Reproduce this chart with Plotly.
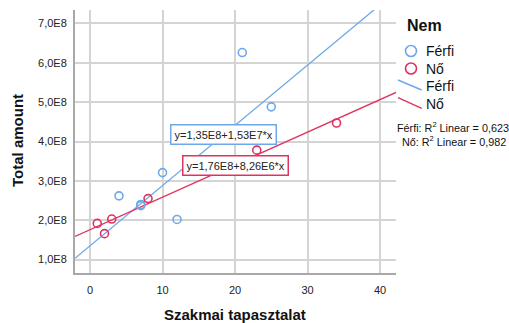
import plotly.graph_objects as go

# Data
ferfi_x = [4, 7, 7, 10, 12, 21, 25]
ferfi_y = [2.62e8, 2.40e8, 2.37e8, 3.21e8, 2.02e8, 6.26e8, 4.88e8]
no_x = [1, 2, 3, 8, 23, 34]
no_y = [1.92e8, 1.66e8, 2.03e8, 2.55e8, 3.78e8, 4.47e8]
ferfi_fit = (1.35e8, 1.53e7)   # intercept, slope
no_fit = (1.76e8, 8.26e6)
r2_ferfi = "0,623"
r2_no = "0,982"
x_ticks = [0, 10, 20, 30, 40]
y_ticks = [1e8, 2e8, 3e8, 4e8, 5e8, 6e8, 7e8]
y_ticklabels = ["1,0E8", "2,0E8", "3,0E8", "4,0E8", "5,0E8", "6,0E8", "7,0E8"]

BLUE = "#6EA8E8"
RED = "#E0325F"
FONT = "Liberation Sans, Arial, sans-serif"

W, H = 509, 323
L, R, T, B = 75, 113, 10, 50
xr = [-2.07, 42.2]
yr = [0.66e8, 7.34e8]

pw = W - L - R
ph = H - T - B
def px(x):
    return (x - L) / pw
def py(y):
    return (H - B - y) / ph

fig = go.Figure()

# fit lines
for (a, b), c in [(ferfi_fit, BLUE), (no_fit, RED)]:
    fig.add_trace(go.Scatter(x=xr, y=[a + b * xr[0], a + b * xr[1]], mode="lines",
                             line=dict(color=c, width=1.3), showlegend=False, hoverinfo="skip"))

fig.add_trace(go.Scatter(x=ferfi_x, y=ferfi_y, mode="markers", showlegend=False,
                         marker=dict(symbol="circle-open", size=8, color=BLUE, line=dict(width=1.6))))
fig.add_trace(go.Scatter(x=no_x, y=no_y, mode="markers", showlegend=False,
                         marker=dict(symbol="circle-open", size=8, color=RED, line=dict(width=1.6))))

ann = []
# axis titles
ann.append(dict(xref="paper", yref="paper", x=px(235), y=py(314), showarrow=False,
                xanchor="center", yanchor="middle", text="<b>Szakmai tapasztalat</b>",
                font=dict(size=15, color="#111", family=FONT)))
ann.append(dict(xref="paper", yref="paper", x=px(17), y=py(141), showarrow=False, textangle=-90,
                xanchor="center", yanchor="middle", text="<b>Total amount</b>",
                font=dict(size=15, color="#111", family=FONT)))
# equation boxes
ann.append(dict(xref="paper", yref="paper", x=px(223.7), y=py(134.5), showarrow=False,
                text="y=1,35E8+1,53E7*x", font=dict(size=11, color="#222", family=FONT),
                bgcolor="white", bordercolor=BLUE, borderwidth=1.5, borderpad=3))
ann.append(dict(xref="paper", yref="paper", x=px(235), y=py(165), showarrow=False,
                text="y=1,76E8+8,26E6*x", font=dict(size=11, color="#222", family=FONT),
                bgcolor="white", bordercolor=RED, borderwidth=1.5, borderpad=3))

# legend
def ltext(x, y, text, size=13, bold=False):
    ann.append(dict(xref="paper", yref="paper", x=px(x), y=py(y), xanchor="left", yanchor="middle",
                    showarrow=False, text=("<b>%s</b>" % text) if bold else text,
                    font=dict(size=size, color="#111", family=FONT)))

ltext(405, 26, "Nem", 16, True)
ltext(424, 51, "Férfi", 14)
ltext(424, 69, "Nő", 14)
ltext(424, 86, "Férfi", 14)
ltext(424, 104, "Nő", 14)
ltext(395, 127, "Férfi: R<sup>2</sup> Linear = " + r2_ferfi, 10.8)
ltext(400, 141, "Nő: R<sup>2</sup> Linear = " + r2_no, 10.8)

shapes = []
for cy, c in [(51, BLUE), (68.5, RED)]:
    shapes.append(dict(type="circle", xref="paper", yref="paper", xsizemode="pixel", ysizemode="pixel",
                       xanchor=px(411), yanchor=py(cy), x0=-5.5, x1=5.5, y0=-5.5, y1=5.5,
                       line=dict(color=c, width=1.6)))
for (x0, y0, x1, y1), c in [((398, 80, 421.7, 90), BLUE), ((398, 97.7, 421.7, 108.3), RED)]:
    shapes.append(dict(type="line", xref="paper", yref="paper", x0=px(x0), y0=py(y0), x1=px(x1), y1=py(y1),
                       line=dict(color=c, width=1.4)))

fig.update_layout(
    width=W, height=H, margin=dict(l=L, r=R, t=T, b=B, autoexpand=False),
    paper_bgcolor="white", plot_bgcolor="white",
    showlegend=False, annotations=ann, shapes=shapes,
    font=dict(family=FONT, size=11, color="#222"),
    xaxis=dict(range=xr, tickvals=x_ticks, showgrid=True, gridcolor="#d4d4d4", gridwidth=1.5,
               zeroline=False, showline=True, linecolor="#a8a8a8", linewidth=2, automargin=False,
               ticks="", ticklabelstandoff=6, tickfont=dict(size=11, color="#222")),
    yaxis=dict(range=yr, tickvals=y_ticks, ticktext=y_ticklabels, showgrid=True, gridcolor="#d4d4d4",
               gridwidth=1.5, zeroline=False, showline=True, linecolor="#a8a8a8", linewidth=2,
               automargin=False, ticks="", ticklabelstandoff=4, tickfont=dict(size=11, color="#222")),
)

fig.write_html("out.html", config={"displayModeBar": False},
               post_script="document.body.style.margin='0';document.body.style.overflow='hidden';")
